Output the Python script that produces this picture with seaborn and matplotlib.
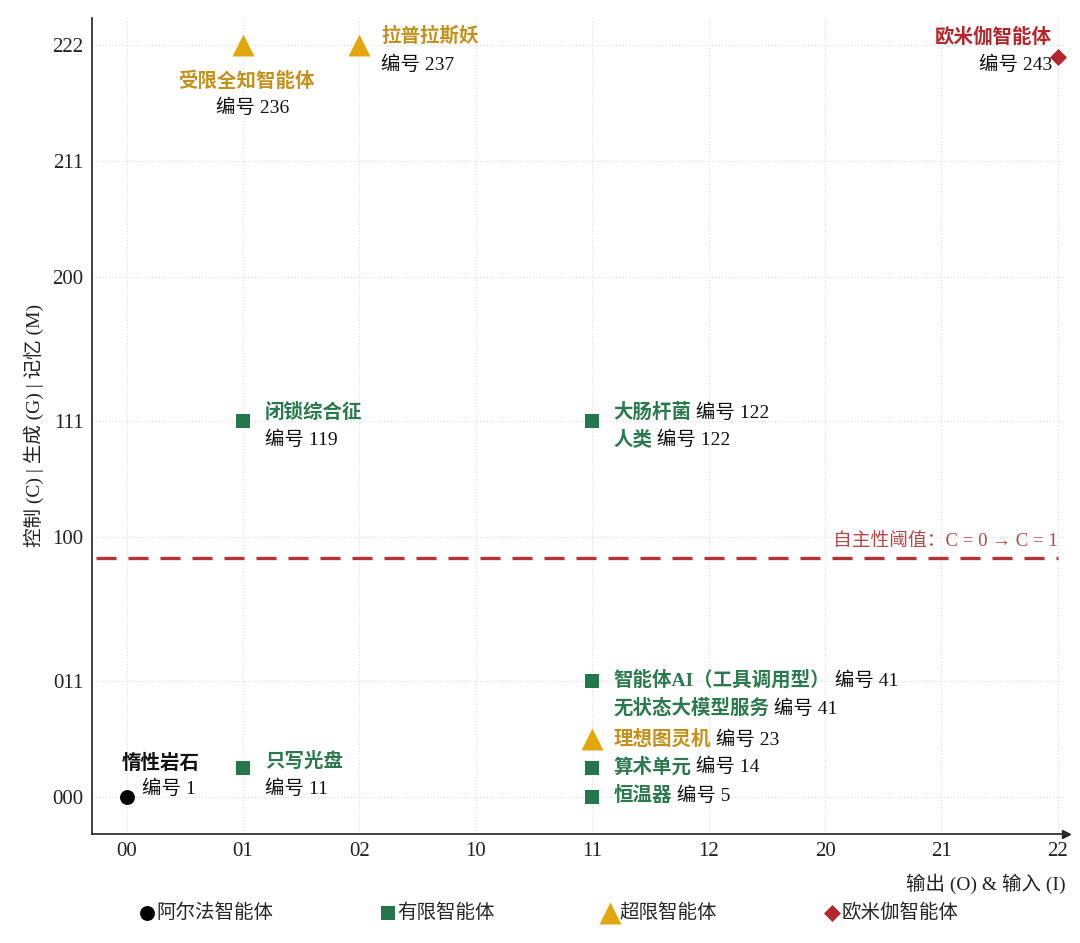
import numpy as np
import pandas as pd
import seaborn as sns
import matplotlib.pyplot as plt

# ---- data (x/y are base-3 codes, i.e. 00..22 and 000..222) ----
x_labels = ['00', '01', '02', '10', '11', '12', '20', '21', '22']
y_tick_pos = [0, 4, 9, 13, 18, 22, 26]
y_labels = ['000', '011', '100', '111', '200', '211', '222']

names = ['惰性岩石', '只写光盘', '闭锁综合征', '大肠杆菌', '人类',
         '智能体AI（工具调用型）', '无状态大模型服务', '理想图灵机', '算术单元', '恒温器',
         '受限全知智能体', '拉普拉斯妖', '欧米伽智能体']
codes = [1, 11, 119, 122, 122, 41, 41, 23, 14, 5, 236, 237, 243]
x_pos = [0, 1, 1, 4, 4, 4, 4, 4, 4, 4, 1, 2, 8]
y_pos = [0, 1, 13, 13, 13, 4, 4, 2, 1, 0, 26, 26, 25.6]
kinds = ['阿尔法智能体', '有限智能体', '有限智能体', '有限智能体', '有限智能体',
         '有限智能体', '有限智能体', '超限智能体', '有限智能体', '有限智能体',
         '超限智能体', '超限智能体', '欧米伽智能体']

kind_order = ['阿尔法智能体', '有限智能体', '超限智能体', '欧米伽智能体']
threshold = 8.25
threshold_text = '自主性阈值：C = 0 → C = 1'

# ---- styles ----
marker_color = {'阿尔法智能体': '#000000', '有限智能体': '#23774a',
                '超限智能体': '#e2a70c', '欧米伽智能体': '#b3262b'}
text_color = {'阿尔法智能体': '#111111', '有限智能体': '#2b7a4e',
              '超限智能体': '#c4911c', '欧米伽智能体': '#b3262b'}
marker_shape = {'阿尔法智能体': 'o', '有限智能体': 's', '超限智能体': '^', '欧米伽智能体': 'D'}
marker_size = {'阿尔法智能体': 115, '有限智能体': 90, '超限智能体': 250, '欧米伽智能体': 75}

# label offsets in pixels: (mode, name offset, code offset)
layout = {
    '惰性岩石': ('left', (-5, 33), (15, 8)),
    '只写光盘': ('left', (22, 6), (22, -21)),
    '闭锁综合征': ('left', (22, 9), (22, -19)),
    '大肠杆菌': ('inline', (21, 9), None),
    '人类': ('inline', (21, -19), None),
    '智能体AI（工具调用型）': ('inline', (21, 1), None),
    '无状态大模型服务': ('inline', (21, -27), None),
    '理想图灵机': ('inline', (21, 0), None),
    '算术单元': ('inline', (21, 1), None),
    '恒温器': ('inline', (21, 1), None),
    '受限全知智能体': ('center', (3, -36), (10, -62)),
    '拉普拉斯妖': ('left', (22, 10), (22, -19)),
    '欧米伽智能体': ('right', (-6, 20), (-6, -8)),
}

df = pd.DataFrame({'name': names, 'code': codes, 'x': x_pos, 'y': y_pos, 'kind': kinds})

sns.set_theme(style='white')
plt.rcParams['font.family'] = ['Liberation Serif', 'Noto Sans CJK SC']
plt.rcParams['axes.unicode_minus'] = False

fig, ax = plt.subplots(figsize=(10.8, 9.43), dpi=100)
fig.subplots_adjust(left=0.085, right=0.987, bottom=0.116, top=0.981)

for k in kind_order:
    sub = df[df['kind'] == k]
    sns.scatterplot(data=sub, x='x', y='y', marker=marker_shape[k], color=marker_color[k],
                    s=marker_size[k], linewidth=0, label=k, ax=ax, zorder=3)

px = 0.72  # pixels -> points at dpi 100
for _, r in df.iterrows():
    mode, noff, coff = layout[r['name']]
    col = text_color[r['kind']]
    code_txt = f'编号 {r["code"]}'
    if mode == 'inline':
        t = ax.annotate(r['name'], (r['x'], r['y']), xytext=(noff[0] * px, noff[1] * px),
                        textcoords='offset points', ha='left', va='center',
                        fontsize=14, fontweight='bold', color=col)
        ax.annotate(' ' + code_txt, xy=(1, 0), xycoords=t, ha='left', va='bottom',
                    fontsize=14, color='#111111')
    else:
        ax.annotate(r['name'], (r['x'], r['y']), xytext=(noff[0] * px, noff[1] * px),
                    textcoords='offset points', ha=mode, va='center',
                    fontsize=14, fontweight='bold', color=col)
        ax.annotate(code_txt, (r['x'], r['y']), xytext=(coff[0] * px, coff[1] * px),
                    textcoords='offset points', ha=mode, va='center',
                    fontsize=14, color='#111111')

# autonomy threshold
ax.plot([-0.26, 8], [threshold, threshold], color='#b83236', lw=2.4,
        dashes=(6, 3.6), zorder=2)
ax.text(8, threshold + 0.3, threshold_text, ha='right', va='bottom',
        fontsize=13.5, color='#b8474a')

ax.set_xlim(-0.3, 8.07)
ax.set_ylim(-1.28, 26.95)
ax.set_xticks(range(len(x_labels)))
ax.set_xticklabels(x_labels)
ax.set_yticks(y_tick_pos)
ax.set_yticklabels(y_labels)
ax.tick_params(length=0, pad=6, labelsize=15, colors='#222222')
ax.grid(True, linestyle=':', color='#dedede', linewidth=0.9)
ax.set_axisbelow(True)

for s in ['top', 'right']:
    ax.spines[s].set_visible(False)
for s in ['left', 'bottom']:
    ax.spines[s].set_color('#333333')
    ax.spines[s].set_linewidth(1.3)
ax.plot(1, 0, marker='>', color='#222222', ms=6, transform=ax.transAxes, clip_on=False)

ax.set_xlabel('输出 (O) & 输入 (I)', fontsize=14, loc='right', labelpad=9, color='#222222')
ax.set_ylabel('控制 (C) | 生成 (G) | 记忆 (M)', fontsize=14, labelpad=6, color='#222222')

ax.legend(loc='center', bbox_to_anchor=(0.508, 0.032), bbox_transform=fig.transFigure,
          ncol=4, frameon=False, fontsize=14, handlelength=0.8, handletextpad=0.1,
          columnspacing=5.5, markerscale=1.0)

fig.savefig('out.png', dpi=100)
